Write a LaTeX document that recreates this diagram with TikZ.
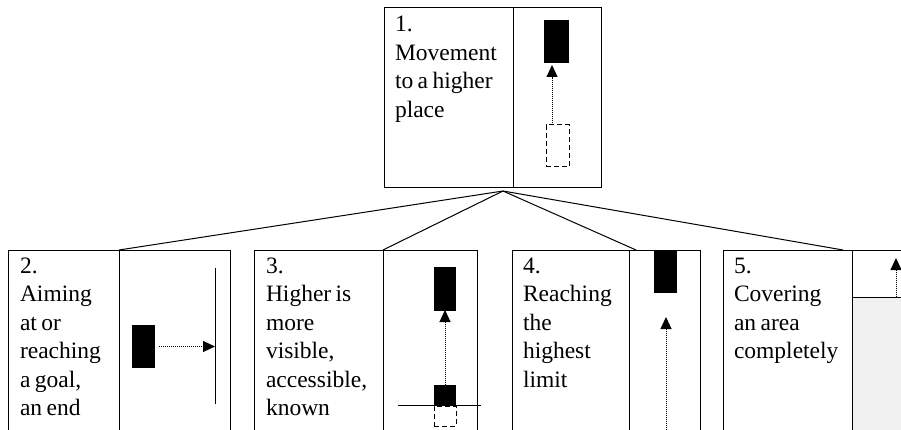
\documentclass[tikz,border=0pt]{standalone}
\usepackage{fontspec}
\setmainfont{Liberation Serif}[WordSpace=0.75]
\usetikzlibrary{arrows.meta,calc}
\begin{document}
\begin{tikzpicture}[x=1pt,y=-1pt,
  boxcell/.style={draw, line width=1pt, rectangle, inner sep=0pt, outer sep=0pt, anchor=north west},
  solidblock/.style={fill=black, rectangle, inner sep=0pt, outer sep=0pt, anchor=north west},
  ghostblock/.style={draw, dash pattern=on 5pt off 3pt, line width=1pt, rectangle, inner sep=0pt, outer sep=0pt, anchor=north west},
  cellnote/.style={anchor=base west, inner sep=0pt, outer sep=0pt, font=\fontsize{23.5}{28.5}\selectfont},
  pointer/.style={densely dotted, line width=1pt, -{Triangle[length=12pt,width=11pt]}},
  hubline/.style={line width=1pt},
  rule/.style={line width=1pt}]
\useasboundingbox (0,0) rectangle (901,430);
\clip (0,0) rectangle (901,430);

% ---- top box: 1. Movement to a higher place
\node[boxcell, minimum width=129pt, minimum height=180pt] (t1) at (384,8) {};
\node[boxcell, minimum width=88pt, minimum height=180pt] (p1) at (513,8) {};
\node[cellnote] (s1) at (395,32) {\parbox[t]{120pt}{1.\\Movement\\to a higher\\place}};
\node[solidblock, minimum width=25pt, minimum height=43pt] (m1) at (544,20) {};
\node[ghostblock, minimum width=23pt, minimum height=42pt] (g1) at (546,125) {};
\draw[pointer] ($(g1.north west)+(6,0)$) -- ($(m1.south west)+(8,2)$);

% ---- bottom row
\fill[gray!11] (852,297) rectangle (960,460);

\node[boxcell, minimum width=111pt, minimum height=220pt] (t2) at (8,250) {};
\node[boxcell, minimum width=111pt, minimum height=220pt] (p2) at (119,250) {};
\node[boxcell, minimum width=129pt, minimum height=220pt] (t3) at (254,250) {};
\node[boxcell, minimum width=94pt, minimum height=220pt] (p3) at (383,250) {};
\node[boxcell, minimum width=117pt, minimum height=220pt] (t4) at (512,250) {};
\node[boxcell, minimum width=71pt, minimum height=220pt] (p4) at (629,250) {};
\node[boxcell, minimum width=129pt, minimum height=220pt] (t5) at (723,250) {};
\node[boxcell, minimum width=120pt, minimum height=220pt] (p5) at (852,250) {};

\node[cellnote] (s2) at (20,273) {\parbox[t]{100pt}{2.\\Aiming\\at or\\reaching\\a goal,\\an end}};
\node[cellnote] (s3) at (266,273) {\parbox[t]{115pt}{3.\\Higher is\\more\\visible,\\accessible,\\known}};
\node[cellnote] (s4) at (523,273) {\parbox[t]{105pt}{4.\\Reaching\\the\\highest\\limit}};
\node[cellnote] (s5) at (734,273) {\parbox[t]{115pt}{5.\\Covering\\an area\\completely}};

% 2. block moving towards a barrier
\node[solidblock, minimum width=23pt, minimum height=43pt] (m2) at (132,325) {};
\coordinate (w2top) at (215,268);
\coordinate (w2bot) at (215,404);
\draw[rule] (w2top) -- (w2bot);
\draw[pointer] ($(m2.east)+(4,0)$) -- ($(w2top)!(m2.east)!(w2bot)$);

% 3. block rising above the surface
\node[solidblock, minimum width=22pt, minimum height=44pt] (m3) at (434,267) {};
\node[solidblock, minimum width=22pt, minimum height=21pt] (n3) at (434,385) {};
\node[ghostblock, minimum width=22pt, minimum height=20pt] (g3) at (434,406) {};
\coordinate (h3a) at (398,405);
\coordinate (h3b) at (481,405);
\draw[rule] (h3a) -- (h3b);
\draw[pointer] (n3.north) -- ($(m3.south)+(0,-1)$);

% 4. reaching the highest limit
\node[solidblock, minimum width=23pt, minimum height=43pt] (m4) at (654,250) {};
\coordinate (a4) at (666,440);
\draw[pointer] (a4) -- (666,317);

% 5. covering an area
\coordinate (c5a) at (852,297);
\coordinate (c5b) at (960,297);
\draw[rule] (c5a) -- (c5b);
\draw[pointer] (896,297) -- (896,258);

% links from the top box to each lower box
\coordinate (hub) at (503,191);
\draw[hubline] (hub) -- (p2.north west);
\draw[hubline] (hub) -- (p3.north west);
\draw[hubline] (hub) -- ($(p4.north west)+(7,0)$);
\draw[hubline] (hub) -- ($(t5.north east)+(-9,0)$);
\end{tikzpicture}
\end{document}
